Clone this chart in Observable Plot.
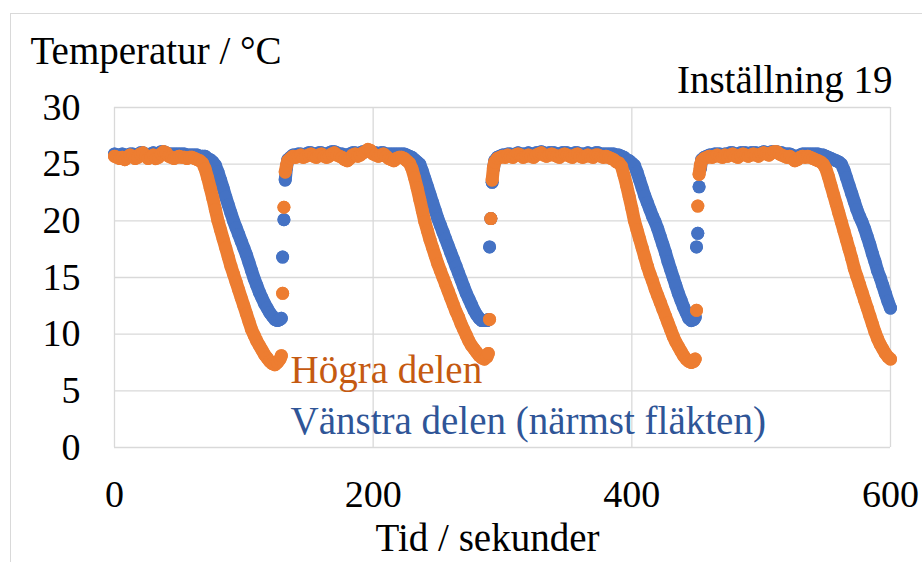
<!DOCTYPE html>
<html><head><meta charset="utf-8">
<script src="https://cdn.jsdelivr.net/npm/d3@7"></script>
<script src="https://cdn.jsdelivr.net/npm/@observablehq/plot@0.6"></script>
<style>
body{margin:0;background:#fff;}
#wrap{position:relative;width:922px;height:562px;overflow:hidden;background:#fff;}
#border{position:absolute;left:10px;top:13px;width:1000px;height:700px;border-left:1.5px solid #d9d9d9;border-top:1.5px solid #d9d9d9;box-sizing:border-box;}
#wrap svg{position:absolute;left:0;top:0;}
#wrap svg text{font-family:"Liberation Serif","DejaVu Serif",serif !important;}
</style></head><body><div id="wrap"><div id="border"></div></div>
<script>
// Tid / sekunder
const tid = [
  0,2,4,6,8,10,12,14,16,18,20,22,24,26,28,30,32,34,36,38,40,42,44,46,48,50,52,54,56,58,60,
  62,64,66,68,70,72,74,76,78,80,82,84,86,88,90,92,94,96,98,100,102,104,106,108,110,112,114,116,118,120,122,124,126,128,
  129,130,131,132,133,
  134,136,138,140,142,144,146,148,150,152,154,156,158,160,162,164,166,168,170,172,174,176,178,180,182,184,186,188,190,192,194,196,198,200,202,204,206,208,210,212,214,216,218,220,222,
  224,226,228,230,232,234,236,238,240,242,244,246,248,250,252,254,256,258,260,262,264,266,268,270,272,274,276,278,280,282,284,286,288,
  289,290,291,292,293,
  294,296,298,300,302,304,306,308,310,312,314,316,318,320,322,324,326,328,330,332,334,336,338,340,342,344,346,348,350,352,354,356,358,360,362,364,366,368,370,372,374,376,378,380,382,384,
  386,388,390,392,394,396,398,400,402,404,406,408,410,412,414,416,418,420,422,424,426,428,430,432,434,436,438,440,442,444,446,448,
  449,450,451,452,453,
  454,456,458,460,462,464,466,468,470,472,474,476,478,480,482,484,486,488,490,492,494,496,498,500,502,504,506,508,510,512,514,516,518,520,522,524,526,528,530,532,534,536,538,540,
  542,544,546,548,550,552,554,556,558,560,562,564,566,568,570,572,574,576,578,580,582,584,586,588,590,592,594,596,598,600
];
// Högra delen (°C)
const hogra = [
  25.7,25.6,25.5,25.6,25.4,25.6,25.8,25.7,25.5,25.6,
  25.9,26.0,25.7,25.5,25.6,25.8,25.5,25.6,25.9,26.1,
  26.0,25.7,25.6,25.5,25.6,25.7,25.6,25.6,25.5,25.6,
  25.6,
  25.5,25.4,25.3,25.1,24.6,23.8,22.9,22.0,21.0,20.0,
  19.2,18.4,17.6,16.8,16.0,15.3,14.6,13.9,13.2,12.5,
  11.8,11.1,10.4,9.9,9.4,9.0,8.6,8.2,7.9,7.6,
  7.4,7.3,7.5,7.8,
  8.1,13.6,21.2,24.3,24.9,
  25.3,25.5,25.7,25.6,25.7,25.8,25.6,25.7,25.8,25.9,
  25.7,25.6,25.8,25.9,25.7,25.6,25.7,25.9,26.0,25.8,
  25.7,25.6,25.4,25.3,25.5,25.8,25.9,25.7,25.8,26.0,
  26.1,26.3,26.2,25.9,25.8,25.7,25.8,25.9,25.7,25.5,
  25.4,25.3,25.5,25.6,25.6,
  25.5,25.3,25.1,24.6,23.8,22.9,21.9,20.9,19.9,19.1,
  18.3,17.6,16.9,16.2,15.6,15.0,14.4,13.8,13.2,12.6,
  12.0,11.5,10.9,10.4,9.9,9.4,9.0,8.7,8.4,8.1,
  7.9,7.8,8.0,
  8.3,11.3,20.2,23.6,24.7,
  25.2,25.5,25.6,25.7,25.6,25.8,25.7,25.6,25.8,25.9,
  25.8,25.6,25.7,25.8,25.7,25.6,25.8,25.9,26.0,25.8,
  25.7,25.8,25.9,25.8,25.7,25.6,25.8,25.9,25.8,25.7,
  25.6,25.8,25.9,25.7,25.6,25.7,25.8,25.7,25.6,25.8,
  25.8,25.7,25.6,25.7,25.6,25.5,
  25.4,25.2,25.1,24.8,24.0,23.1,22.1,21.1,20.0,19.2,
  18.4,17.6,16.8,16.0,15.3,14.7,14.0,13.4,12.8,12.2,
  11.6,11.0,10.4,9.8,9.3,8.9,8.5,8.1,7.8,7.6,
  7.5,7.6,
  7.8,12.1,21.3,24.1,24.9,
  25.3,25.5,25.6,25.7,25.6,25.7,25.8,25.7,25.6,25.8,
  25.7,25.8,25.9,25.7,25.6,25.8,25.9,25.8,25.7,25.8,
  25.9,25.8,25.7,25.9,26.0,25.9,25.8,26.0,26.1,26.1,
  25.9,25.8,25.7,25.6,25.7,25.5,25.3,25.4,25.6,25.7,
  25.6,25.7,25.6,25.5,
  25.4,25.3,25.2,25.0,24.6,23.9,23.1,22.3,21.5,20.7,
  19.9,19.1,18.3,17.5,16.7,15.8,15.1,14.4,13.7,13.0,
  12.3,11.6,10.9,10.2,9.6,9.1,8.7,8.3,8.0,7.8
];
// Vänstra delen (närmst fläkten) (°C)
const vanstra = [
  25.9,25.8,25.8,25.9,25.8,25.7,25.9,25.9,25.8,25.8,
  26.0,26.0,25.9,25.8,25.9,26.0,25.9,25.9,26.1,26.1,
  26.0,25.9,25.9,25.9,25.9,25.9,25.9,25.9,25.8,25.8,
  25.8,
  25.8,25.8,25.7,25.7,25.7,25.5,25.4,25.2,24.9,24.3,
  23.6,22.9,22.1,21.4,20.7,20.0,19.4,18.8,18.2,17.6,
  17.0,16.3,15.6,14.9,14.3,13.7,13.2,12.7,12.3,11.9,
  11.6,11.3,11.2,11.3,
  11.4,16.8,20.1,23.6,24.7,
  25.4,25.6,25.8,25.8,25.9,25.9,25.8,25.9,26.0,26.0,
  25.9,25.9,26.0,26.0,25.9,25.9,26.0,26.1,26.1,26.0,
  25.9,25.9,25.8,25.8,25.9,26.0,26.0,25.9,26.0,26.1,
  26.1,26.2,26.1,26.0,26.0,25.9,26.0,26.0,25.9,25.9,
  25.9,25.9,25.9,25.9,25.9,
  25.9,25.8,25.7,25.6,25.4,25.2,25.0,24.4,23.7,23.0,
  22.3,21.6,20.9,20.2,19.6,19.0,18.4,17.8,17.2,16.6,
  16.0,15.4,14.8,14.2,13.6,13.1,12.6,12.1,11.7,11.4,
  11.2,11.2,11.2,
  11.3,17.7,20.2,23.4,24.6,
  25.3,25.6,25.7,25.8,25.8,25.9,25.9,25.8,25.9,26.0,
  25.9,25.9,25.9,26.0,25.9,25.9,26.0,26.0,26.1,26.0,
  25.9,26.0,26.0,26.0,25.9,25.9,26.0,26.0,26.0,25.9,
  25.9,26.0,26.0,25.9,25.9,25.9,26.0,25.9,25.9,26.0,
  26.0,25.9,25.9,25.9,25.9,25.9,
  25.9,25.8,25.8,25.7,25.6,25.4,25.3,25.1,24.9,24.3,
  23.6,22.9,22.2,21.6,21.0,20.4,19.9,19.3,18.6,17.9,
  17.2,16.4,15.7,15.0,14.3,13.6,13.0,12.4,11.9,11.4,
  11.2,11.3,
  11.5,17.7,18.9,23.0,24.6,
  25.4,25.6,25.7,25.8,25.8,25.9,25.9,25.9,25.8,25.9,
  25.9,26.0,26.0,25.9,25.9,26.0,26.0,26.0,25.9,26.0,
  26.0,26.0,25.9,26.0,26.1,26.0,26.0,26.1,26.1,26.1,
  26.0,26.0,25.9,25.9,25.9,25.8,25.6,25.7,25.8,25.9,
  25.9,25.9,25.9,25.9,
  25.9,25.9,25.8,25.8,25.7,25.6,25.5,25.4,25.3,25.2,
  25.0,24.5,23.8,23.1,22.4,21.7,21.0,20.4,19.9,19.3,
  18.6,17.9,17.1,16.4,15.6,15.0,14.3,13.6,12.9,12.3
];
const xTicks = [0, 200, 400, 600];
const yTicks = [0, 5, 10, 15, 20, 25, 30];
const yTitle = "Temperatur / °C";
const xTitle = "Tid / sekunder";
const chartNote = "Inställning 19";
const seriesNames = ["Högra delen", "Vänstra delen (närmst fläkten)"];
const orange = "#ED7D31", blue = "#4472C4";
const orangeText = "#C55A11", blueText = "#2F5597";

if (tid.length !== hogra.length || tid.length !== vanstra.length) console.error("length mismatch", tid.length, hogra.length, vanstra.length);

// split each series into continuous runs (a new run starts at a jump between samples)
function rows(values) {
  let seg = 0;
  return tid.map((t, i) => {
    if (i > 0 && Math.abs(values[i] - values[i - 1]) > 1.15) seg++;
    return {t, T: values[i], seg};
  });
}
const hRows = rows(hogra);
const vRows = rows(vanstra);

const FS = 38;   // tick labels
const FT = 39;   // titles and series labels
const chart = Plot.plot({
  width: 922, height: 562,
  marginLeft: 114, marginRight: 32, marginTop: 107, marginBottom: 115,
  x: {domain: [0, 600]},
  y: {domain: [0, 30]},
  style: "font-family: 'Liberation Serif', 'DejaVu Serif', serif; font-size: 38px; color: #000; background: transparent; overflow: visible;",
  marks: [
    Plot.gridY(yTicks, {stroke: "#d9d9d9", strokeOpacity: 1, strokeWidth: 1.3}),
    Plot.gridX(xTicks, {stroke: "#d9d9d9", strokeOpacity: 1, strokeWidth: 1.3}),
    Plot.axisY(yTicks, {tickSize: 0, tickPadding: 34, label: null, tickFormat: d => String(d), fontSize: FS}),
    Plot.axisX(xTicks, {tickSize: 0, tickPadding: 33, label: null, tickFormat: d => String(d), fontSize: FS}),
    Plot.line(vRows, {x: "t", y: "T", z: "seg", stroke: blue, strokeWidth: 13, strokeLinecap: "round", strokeLinejoin: "round"}),
    Plot.dot(vRows, {x: "t", y: "T", r: 6.5, fill: blue}),
    Plot.line(hRows, {x: "t", y: "T", z: "seg", stroke: orange, strokeWidth: 13, strokeLinecap: "round", strokeLinejoin: "round"}),
    Plot.dot(hRows, {x: "t", y: "T", r: 6.5, fill: orange}),
    Plot.text([yTitle], {frameAnchor: "top-left", dx: 30 - 114, dy: 63 - 107, textAnchor: "start", lineAnchor: "bottom", fontSize: FT, fill: "#000"}),
    Plot.text([chartNote], {frameAnchor: "top-right", dx: 892 - 890, dy: 92 - 107, textAnchor: "end", lineAnchor: "bottom", fontSize: FT, fill: "#000"}),
    Plot.text([seriesNames[0]], {frameAnchor: "top-left", dx: 290 - 114, dy: 382 - 107, textAnchor: "start", lineAnchor: "bottom", fontSize: FT, fill: orangeText}),
    Plot.text([seriesNames[1]], {frameAnchor: "top-left", dx: 290 - 114, dy: 433 - 107, textAnchor: "start", lineAnchor: "bottom", fontSize: FT, fill: blueText}),
    Plot.text([xTitle], {frameAnchor: "bottom-left", dx: 487 - 114, dy: 550 - 447, textAnchor: "middle", lineAnchor: "bottom", fontSize: FT, fill: "#000"})
  ]
});
document.getElementById("wrap").appendChild(chart);
</script>
</body></html>
